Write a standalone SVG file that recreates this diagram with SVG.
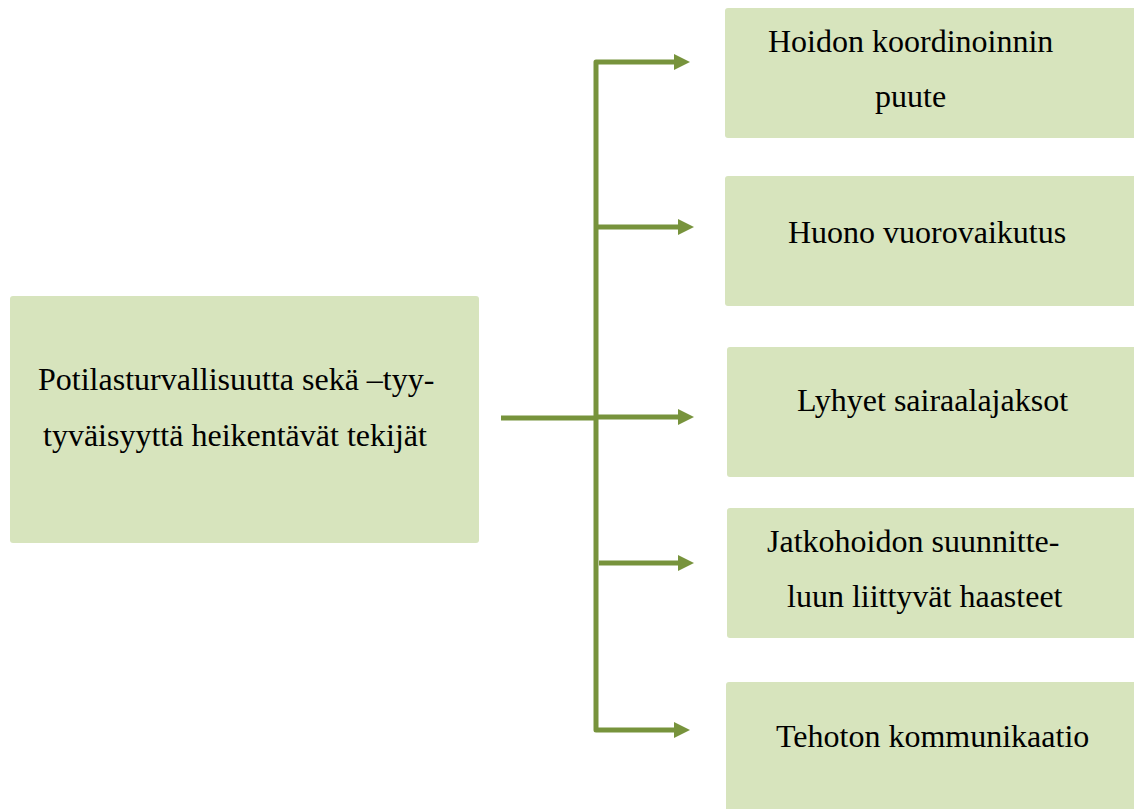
<svg xmlns="http://www.w3.org/2000/svg" width="1134" height="809" viewBox="0 0 1134 809">
<style>
.box{fill:#d7e4bd;}
.c{stroke:#77933c;stroke-width:5;fill:none;stroke-linejoin:round;}
</style>
<rect width="1134" height="809" fill="#fff"/>
<g font-family="Liberation Serif, Times New Roman, DejaVu Serif, serif" font-size="32" fill="#000">
<g id="main"><rect class="box" x="10" y="296" width="469" height="247" rx="3"/>
<text x="38" y="390">Potilasturvallisuutta sekä –tyy-</text>
<text x="43" y="446">tyväisyyttä heikentävät tekijät</text></g>
<g id="n1"><rect class="box" x="725" y="8" width="415" height="130" rx="3"/>
<text x="768" y="52">Hoidon koordinoinnin</text>
<text x="875" y="107">puute</text></g>
<g id="n2"><rect class="box" x="725" y="176" width="415" height="130" rx="3"/>
<text x="788" y="243">Huono vuorovaikutus</text></g>
<g id="n3"><rect class="box" x="727" y="347" width="415" height="130" rx="3"/>
<text x="797" y="411">Lyhyet sairaalajaksot</text></g>
<g id="n4"><rect class="box" x="727" y="508" width="415" height="130" rx="3"/>
<text x="767" y="552">Jatkohoidon suunnitte-</text>
<text x="787" y="607">luun liittyvät haasteet</text></g>
<g id="n5"><rect class="box" x="726" y="682" width="415" height="140" rx="3"/>
<text x="776" y="747">Tehoton kommunikaatio</text></g>
</g>
<g id="connectors">
<path class="c" d="M675 62 H596 V730 H675"/>
<path class="c" d="M596 227 H679"/>
<path class="c" d="M501 418 H596 M596 417 H679"/>
<path class="c" d="M599 563 H679"/>
<g fill="#77933c">
<polygon points="674,54 690,62 674,70"/>
<polygon points="678,219 694,227 678,235"/>
<polygon points="678,409 694,417 678,425"/>
<polygon points="678,555 694,563 678,571"/>
<polygon points="674,722 690,730 674,738"/>
</g>
</g>
</svg>
